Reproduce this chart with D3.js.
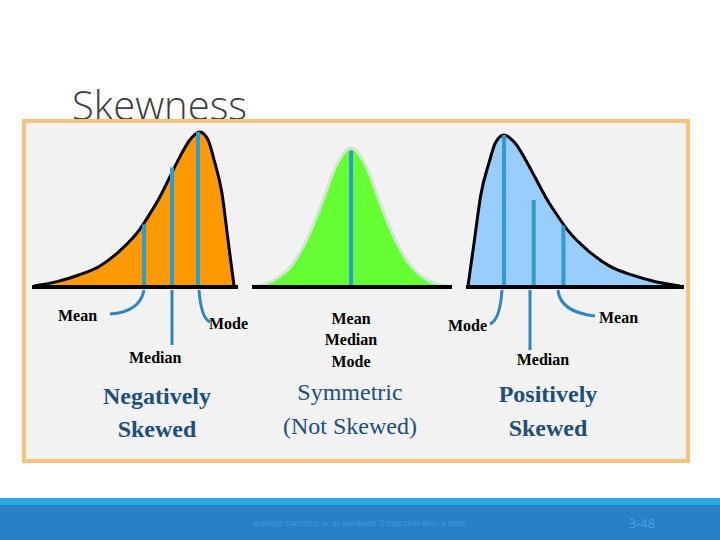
<!DOCTYPE html>
<html><head><meta charset="utf-8">
<script src="https://cdn.jsdelivr.net/npm/d3@7"></script>
<style>body{margin:0;background:#fff}</style></head>
<body><svg id="c" width="720" height="540"></svg>
<script>
// Curve shapes: x position (0-100 across each panel), density (0-1)
const negX = [0,12,22,33,43,53,58,63,68,73,78,83,87,90,94,97,100];
const negY = [0,0.03,0.07,0.13,0.23,0.37,0.47,0.58,0.71,0.84,0.95,1.0,0.95,0.82,0.6,0.3,0];
const symX = [0,10,20,28,35,42,50,58,65,72,80,90,100];
const symY = [0,0.04,0.16,0.36,0.6,0.86,1.0,0.86,0.6,0.36,0.16,0.04,0];
const posX = negX.map(v => 100 - v).reverse();
const posY = negY.slice().reverse();
const negMarks = [{x:55, y:0.40},{x:69, y:0.77},{x:82, y:1.0}];
const symMarks = [{x:50, y:0.98}];
const posMarks = [{x:17, y:1.0},{x:31, y:0.57},{x:45, y:0.40}];

const svg = d3.select("#c");
svg.append("text").attr("x",72).attr("y",120).attr("font-family","Open Sans").attr("font-weight",300)
  .attr("font-size",40).attr("fill","#404040").text("Skewness");
svg.append("rect").attr("x",24).attr("y",121).attr("width",664).attr("height",340)
  .attr("fill","#f2f2f2").attr("stroke","#f2c57a").attr("stroke-width",4);

const base = 286;
function panel(xs, ys, marks, x0, x1, top, fill, stroke) {
  const x = d3.scaleLinear().domain([0,100]).range([x0,x1]);
  const y = d3.scaleLinear().domain([0,1]).range([base, top]);
  const pts = xs.map((v,i)=>[v, ys[i]]);
  const area = d3.area().x(d=>x(d[0])).y0(base).y1(d=>y(d[1])).curve(d3.curveMonotoneX);
  const line = d3.line().x(d=>x(d[0])).y(d=>y(d[1])).curve(d3.curveMonotoneX);
  svg.append("path").attr("d", area(pts)).attr("fill", fill);
  svg.append("path").attr("d", line(pts)).attr("fill","none").attr("stroke", stroke).attr("stroke-width",3);
  marks.forEach(m => svg.append("line").attr("x1",x(m.x)).attr("x2",x(m.x)).attr("y1",y(m.y)).attr("y2",base)
    .attr("stroke","#2f9bd0").attr("stroke-width",4));
  svg.append("line").attr("x1",x0-2).attr("x2",x1+4).attr("y1",base+1).attr("y2",base+1).attr("stroke","#000").attr("stroke-width",4);
}
panel(negX, negY, negMarks, 34, 234, 132, "#ff9900", "#000");
panel(symX, symY, symMarks, 254, 448, 148, "#66ff33", "#cfe6cf");
panel(posX, posY, posMarks, 468, 680, 135, "#99ccff", "#000");

const ar = "#2f86c0";
const arrows = ["M144,290 Q140,312 110,314","M172,290 L172,345","M199,290 Q201,318 210,322",
  "M502,290 Q500,320 490,324","M530,290 L530,350","M558,290 Q560,312 595,316"];
arrows.forEach(d=>svg.append("path").attr("d",d).attr("fill","none").attr("stroke",ar).attr("stroke-width",3));

function t(x,y,s,size,anchor,col){svg.append("text").attr("x",x).attr("y",y).attr("font-family","Liberation Serif")
  .attr("font-weight","bold").attr("font-size",size).attr("text-anchor",anchor||"start").attr("fill",col||"#000").text(s);}
t(58,321,"Mean",16); t(209,329,"Mode",16); t(129,363,"Median",16);
t(351,324,"Mean",16,"middle"); t(351,345,"Median",16,"middle"); t(351,367,"Mode",16,"middle");
t(448,331,"Mode",16); t(599,323,"Mean",16); t(543,365,"Median",16,"middle");
const nc="#1f4e79";
t(157,404,"Negatively",24,"middle",nc); t(157,437,"Skewed",24,"middle",nc);
svg.append("text").attr("x",350).attr("y",400).attr("font-family","Liberation Serif").attr("font-size",24).attr("text-anchor","middle").attr("fill",nc).text("Symmetric");
svg.append("text").attr("x",350).attr("y",434).attr("font-family","Liberation Serif").attr("font-size",24).attr("text-anchor","middle").attr("fill",nc).text("(Not Skewed)");
t(548,402,"Positively",24,"middle",nc); t(548,436,"Skewed",24,"middle",nc);

svg.append("rect").attr("x",0).attr("y",498).attr("width",720).attr("height",8).attr("fill","#27a9e1");
svg.append("rect").attr("x",0).attr("y",505).attr("width",720).attr("height",35).attr("fill","#2980c4");
svg.append("text").attr("x",360).attr("y",526).attr("text-anchor","middle").attr("font-family","Open Sans")
  .attr("font-size",6.5).attr("fill","#3aa6e0").text("BUSINESS STATISTICS, 4e, BY KEN BLACK. © 2003 JOHN WILEY & SONS.");
svg.append("text").attr("x",642).attr("y",528).attr("text-anchor","middle").attr("font-family","Open Sans")
  .attr("font-size",13).attr("fill","#3aa6e0").text("3-48");
</script></body></html>
